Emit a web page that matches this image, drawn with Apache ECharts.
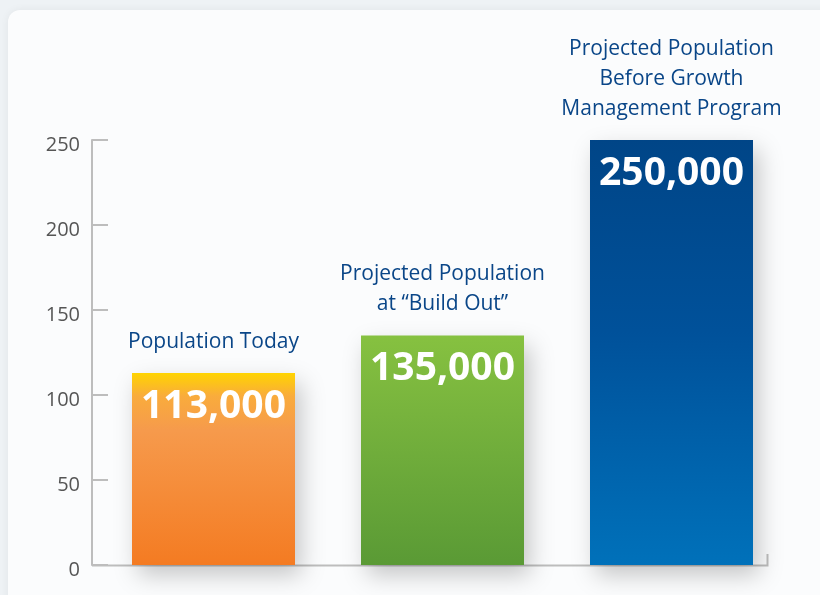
<!DOCTYPE html>
<html>
<head>
<meta charset="utf-8">
<script src="https://cdn.jsdelivr.net/npm/echarts@6/dist/echarts.min.js"></script>
<style>
  html, body { margin: 0; padding: 0; background: #eef2f5; }
  #chart { width: 820px; height: 595px; }
</style>
</head>
<body>
<div id="chart"></div>
<script>
// population in thousands
var categories = ['Population Today', 'Projected Population\nat \u201cBuild Out\u201d', 'Projected Population\nBefore Growth\nManagement Program'];
var values = [113, 135, 250];
var yTicks = [0, 50, 100, 150, 200, 250];

var gradients = [
    [['#ffd400', 0], ['#f9ac3c', 0.12], ['#f69a4c', 0.3], ['#f47b22', 1]],
    [['#86c140', 0], ['#77b33d', 0.35], ['#5a9a35', 1]],
    [['#004587', 0], ['#00519a', 0.45], ['#0071ba', 1]]
];

function grad(stops) {
    return new echarts.graphic.LinearGradient(0, 0, 0, 1, stops.map(function (s) {
        return { offset: s[1], color: s[0] };
    }));
}

var fmt = function (v) {
    return (v * 1000).toLocaleString('en-US');
};

var chart = echarts.init(document.getElementById('chart'));

var option = {
    backgroundColor: '#eef2f5',
    animation: false,
    grid: { left: 99, right: 34, top: 140, bottom: 30 },
    graphic: [
        {
            type: 'rect', z: -10, silent: true,
            shape: { x: 8, y: 10, width: 830, height: 600, r: 12 },
            style: { fill: '#fbfcfd', shadowBlur: 8, shadowColor: 'rgba(0,0,0,0.06)' }
        },
        {
            type: 'polyline', z: 1, silent: true,
            shape: { points: [[92, 565.5], [767.5, 565.5], [767.5, 554]] },
            style: { stroke: '#bdbdbd', lineWidth: 2, fill: null }
        }
    ],
    xAxis: {
        type: 'category',
        data: categories,
        axisLine: { show: false },
        axisTick: { show: false },
        axisLabel: { show: false }
    },
    yAxis: {
        type: 'value',
        min: 0,
        max: 250,
        interval: 50,
        offset: 7,
        axisLine: { show: true, lineStyle: { color: '#bdbdbd', width: 2 } },
        axisTick: { show: true, inside: true, length: 16, lineStyle: { color: '#bdbdbd', width: 2 } },
        axisLabel: {
            color: '#555',
            fontSize: 20,
            fontFamily: 'Open Sans',
            margin: 12,
            verticalAlign: 'top',
            lineHeight: 10,
            formatter: function (v) { return yTicks.indexOf(v) >= 0 ? String(v) : ''; }
        },
        splitLine: { show: false }
    },
    series: [
        {
            type: 'bar',
            barWidth: 163,
            z: 3,
            data: values.map(function (v, i) {
                return { value: v, itemStyle: { color: grad(gradients[i]) } };
            }),
            itemStyle: {
                shadowBlur: 22,
                shadowOffsetX: 6,
                shadowOffsetY: 10,
                shadowColor: 'rgba(0,0,0,0.22)'
            },
            label: {
                show: true,
                position: 'insideTop',
                distance: 14,
                color: '#fff',
                fontSize: 39,
                fontWeight: 'bold',
                fontFamily: 'Open Sans',
                formatter: function (p) { return fmt(p.value); }
            }
        },
        {
            type: 'bar',
            barWidth: 163,
            barGap: '-100%',
            z: 2,
            silent: true,
            itemStyle: { color: 'rgba(0,0,0,0)' },
            data: values,
            label: {
                show: true,
                position: 'top',
                distance: 16,
                color: '#0a4688',
                fontSize: 21,
                lineHeight: 30,
                fontFamily: 'Open Sans',
                align: 'center',
                formatter: function (p) { return categories[p.dataIndex]; }
            }
        }
    ]
};

chart.setOption(option);
</script>
</body>
</html>
